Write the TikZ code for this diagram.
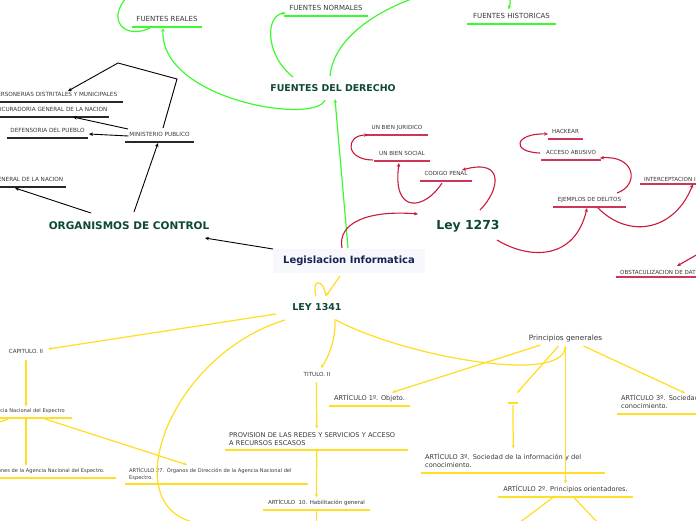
\documentclass[tikz,border=0pt]{standalone}
\usepackage{fontspec}
\setmainfont{DejaVu Sans}
\usetikzlibrary{arrows.meta,calc}
\definecolor{gline}{RGB}{60,250,45}
\definecolor{yline}{RGB}{255,222,40}
\definecolor{rline}{RGB}{200,25,60}
\definecolor{rbarc}{RGB}{205,55,85}
\definecolor{kbarc}{RGB}{40,40,40}
\definecolor{dgreen}{RGB}{12,72,52}
\definecolor{navy}{RGB}{22,36,84}
\definecolor{txt}{RGB}{55,55,55}
\definecolor{libg}{RGB}{246,248,251}
\newcommand\barunder[2]{\draw[#1] (#2.south west) -- (#2.south east);}
\begin{document}
\begin{tikzpicture}[x=1pt,y=-1pt,
  lab/.style={anchor=south,inner xsep=0pt,inner ysep=2pt,text depth=0.3em,text=txt,align=center},
  labl/.style={anchor=south,inner xsep=4pt,inner ysep=4pt,text=txt,align=left},
  fsvn/.style={font=\fontsize{7}{8.4}\selectfont},
  fblk/.style={font=\fontsize{5.7}{7}\selectfont},
  fred/.style={font=\fontsize{5.6}{7}\selectfont},
  fybig/.style={font=\fontsize{6.6}{8}\selectfont},
  fysm/.style={font=\fontsize{5.1}{7}\selectfont},
  ttl/.style={inner sep=0pt,text=dgreen},
  gbar/.style={gline,line width=2.5pt},
  ybar/.style={yline,line width=2.5pt},
  rbar/.style={rbarc,line width=2.5pt},
  kbar/.style={kbarc,line width=1.6pt},
  garr/.style={gline,line width=1.2pt,-{Stealth[length=4pt,width=3.5pt]}},
  gln/.style={gline,line width=1.2pt},
  rarr/.style={rline,line width=1.1pt,-{Stealth[length=4pt,width=3.5pt]}},
  karr/.style={black,line width=0.9pt,-{Stealth[length=4pt,width=3.5pt]}},
  yarr/.style={yline,line width=1.25pt,-{Stealth[length=3.5pt,width=3.2pt]}},
  yln/.style={yline,line width=1.25pt}
]
\useasboundingbox (0,0) rectangle (696,520);

% ---------- nodes ----------
\node[ttl,font=\bfseries\fontsize{9.4}{11}\selectfont] (fd) at (333,88) {FUENTES DEL DERECHO};
\node[lab,fsvn,minimum width=70pt] (fr) at (167,27) {FUENTES REALES};
\node[lab,fsvn,minimum width=84pt] (fn) at (326,16) {FUENTES NORMALES};
\node[lab,fsvn,minimum width=89pt] (fh) at (511.5,24) {FUENTES HISTORICAS};

\node[lab,fblk,minimum width=135pt] (pe) at (55.5,102) {PERSONERIAS DISTRITALES Y MUNICIPALES};
\node[lab,fblk,minimum width=121pt] (pr) at (48.5,117) {PROCURADORIA GENERAL DE LA NACION};
\node[lab,fblk,minimum width=81pt] (de) at (47.5,138) {DEFENSORIA DEL PUEBLO};
\node[lab,fblk,minimum width=69pt] (mp) at (159.5,142) {MINISTERIO PUBLICO};
\node[lab,fblk,minimum width=118pt] (co) at (7,187) {CONTRALORIA GENERAL DE LA NACION};
\node[ttl,font=\bfseries\fontsize{10.5}{12}\selectfont] (oc) at (129,226) {ORGANISMOS DE CONTROL};

\node[inner sep=0pt,fill=libg,minimum width=152pt,minimum height=24pt,text=navy,
      font=\bfseries\fontsize{10}{12}\selectfont] (li) at (349,261) {Legislacion Informatica};

\node[ttl,font=\bfseries\fontsize{12.4}{14}\selectfont] (ly) at (468,226) {Ley 1273};
\node[lab,fred,minimum width=62pt] (ubj) at (397,135) {UN BIEN JURIDICO};
\node[lab,fred,minimum width=56pt] (ubs) at (402,161) {UN BIEN SOCIAL};
\node[lab,fred,minimum width=52pt] (cp) at (446,181) {CODIGO PENAL};
\node[lab,fred,minimum width=35pt] (hk) at (565.5,139) {HACKEAR};
\node[lab,fred,minimum width=60pt] (aa) at (571,160) {ACCESO ABUSIVO};
\node[lab,fred,minimum width=73pt] (ed) at (589.5,207) {EJEMPLOS DE DELITOS};
\node[labl,fred,anchor=south west,inner ysep=2.5pt,text width=112pt] (ic) at (640,184) {INTERCEPTACION ILICITA};
\node[labl,fred,anchor=south west,inner ysep=2.5pt,text width=112pt] (ob) at (616,277) {OBSTACULIZACION DE DATOS};

\node[ttl,font=\bfseries\fontsize{9.5}{11}\selectfont] (l41) at (317,307) {LEY 1341};
\node[inner sep=0pt,text=txt,font=\fontsize{5.6}{7}\selectfont] (cap) at (26,351) {CAPITULO. II};
\node[lab,fysm,minimum width=92pt] (ane) at (26,418) {Agencia Nacional del Espectro};
\node[lab,fysm,minimum width=180pt] (fun) at (26,478) {ARTÍCULO 26. Funciones de la Agencia Nacional del Espectro.};
\node[labl,fysm,anchor=south west,inner ysep=3pt,text width=175pt] (a27) at (125,484) {ARTÍCULO 27. Órganos de Dirección de la Agencia Nacional del\\Espectro.};
\node[inner sep=0pt,text=txt,font=\fontsize{5.6}{7}\selectfont] (tit) at (317,374) {TITULO. II};
\node[lab,fybig,minimum width=81pt] (a1) at (369.5,406) {ARTÍCULO 1º. Objeto.};
\node[labl,fybig,anchor=south west,text width=175pt] (prov) at (225,450) {PROVISION DE LAS REDES Y SERVICIOS Y ACCESO\\A RECURSOS ESCASOS};
\node[lab,font=\fontsize{5.5}{7}\selectfont,minimum width=106pt] (a10) at (316.5,510) {ARTÍCULO~ 10. Habilitación general};
\node[inner sep=0pt,text=txt,font=\fontsize{7.3}{9}\selectfont] (pg) at (565.5,338) {Principios generales};
\node[lab,minimum width=10pt,minimum height=4pt] (emp) at (513,403) {};
\node[labl,fybig,anchor=south west,inner ysep=5pt,text width=176pt] (a3a) at (421,473) {ARTÍCULO 3º. Sociedad de la información y del\\conocimiento.};
\node[lab,fybig,minimum width=134pt] (a2) at (565.5,497) {ARTÍCULO 2º. Principios orientadores.};
\node[labl,fybig,anchor=south west,inner ysep=5pt,text width=176pt] (a3b) at (617,414) {ARTÍCULO 3º. Sociedad de la información y del\\conocimiento.};

% ---------- underlines ----------
\barunder{gbar}{fr}\barunder{gbar}{fn}\barunder{gbar}{fh}
\barunder{kbar}{pe}\barunder{kbar}{pr}\barunder{kbar}{de}\barunder{kbar}{mp}\barunder{kbar}{co}
\barunder{rbar}{ubj}\barunder{rbar}{ubs}\barunder{rbar}{cp}\barunder{rbar}{hk}\barunder{rbar}{aa}
\barunder{rbar}{ed}\barunder{rbar}{ic}\barunder{rbar}{ob}
\barunder{ybar}{ane}\barunder{ybar}{fun}\barunder{ybar}{a27}\barunder{ybar}{a1}\barunder{ybar}{prov}
\barunder{ybar}{a10}\barunder{ybar}{emp}\barunder{ybar}{a3a}\barunder{ybar}{a2}\barunder{ybar}{a3b}

% ---------- green connectors ----------
\coordinate (frtop) at (128,-4);
\draw[garr] ($(li)+(-1,-13)$) -- ($(fd)+(2,11)$);
\draw[garr] ($(fd)+(-8,12)$) .. controls (315,125) and (160,100) .. ($(fr.south)+(-4,1)$);
\draw[garr] ($(fd)+(-40,-11)$) .. controls (265,55) and (265,15) .. ($(fn.south west)+(2,-3)$);
\draw[garr] ($(fd)+(-3,-12)$) .. controls (338,-5) and (525,-40) .. ($(fh.north)+(-3,-2)$);
\draw[gln] ($(fr.south)+(-17,1)$) .. controls (125,40) and (105,20) .. (frtop);

% ---------- black connectors ----------
\draw[karr] ($(li)+(-76,-12)$) -- ($(oc)+(76,12)$);
\draw[karr] ($(oc)+(-38,-13)$) -- ($(co.south)+(8,1)$);
\draw[karr] ($(oc)+(5,-14)$) -- ($(mp.south)+(-1.5,1)$);
\draw[karr] ($(mp.south)+(-31,-6)$) -- ($(de.south)+(41.5,-4)$);
\draw[karr] ($(mp.south)+(-31.5,-13)$) -- ($(pr.south)+(24.5,0)$);
\draw[karr] ($(mp.south)+(3.5,-14)$) -- (177,79) -- (118,63) -- ($(pe.south)+(12.5,-11)$);

% ---------- red connectors ----------
\coordinate (obsrc) at (698,254);
\draw[rarr] ($(li)+(-7,-13)$) .. controls (337,222) and (370,210) .. ($(ly)+(-50,-12)$);
\draw[rarr] ($(ly)+(12,-16)$) .. controls (500,190) and (505,158) .. ($(cp.south)+(16,-11)$);
\draw[rarr] ($(cp.south)+(-4,2)$) .. controls (425,210) and (392,215) .. ($(ubs.south)+(-3,2)$);
\draw[rarr] ($(ubs.south)+(-29,-1)$) .. controls (345,160) and (345,135) .. ($(ubj.south)+(-29,0)$);
\draw[rarr] ($(ly)+(29,14)$) .. controls (530,260) and (575,260) .. ($(ed.south)+(-2.5,1)$);
\draw[rarr] ($(ed.south)+(27.5,-14)$) .. controls (640,185) and (635,155) .. ($(aa.south)+(29,-2)$);
\draw[rarr] ($(aa.south)+(-31,-7)$) .. controls (510,152) and (515,133) .. ($(hk.south)+(-17.5,-5)$);
\draw[rarr] ($(ed.south)+(8.5,1)$) .. controls (630,240) and (675,230) .. ($(ic.south west)+(53,0)$);
\draw[rarr] (obsrc) -- ($(ob.south west)+(61,-11)$);

% ---------- yellow connectors ----------
\coordinate (l41end) at (197,523);
\coordinate (aneleft) at (-3,423);
\coordinate (a10end) at (316.5,523);
\coordinate (a2l) at (519,523);
\coordinate (a2r) at (598,523);
\draw[yarr] ($(li)+(-9,15)$) -- ($(l41)+(9,-11)$);
\draw[yln] ($(l41)+(-1,-11)$) .. controls (311,280) and (323,277) .. ($(l41)+(9,-11)$);
\draw[yarr] ($(l41)+(-41,7)$) -- ($(cap)+(22,-2)$);
\draw[yarr] ($(l41)+(-32,13)$) .. controls (170,355) and (115,505) .. (l41end);
\draw[yarr] ($(l41)+(18,12)$) .. controls (336,340) and (328,358) .. ($(tit)+(4,-6)$);
\draw[yarr] ($(l41)+(19,13)$) .. controls (400,355) and (560,385) .. ($(pg)+(0,8)$);
\draw[yarr] ($(cap)+(0,9)$) -- (ane.north);
\draw[yarr] (ane.south) -- (fun.north);
\draw[yarr] ($(ane.south)+(19,1)$) -- ($(a27.north)+(-29.5,0)$);
\draw[yln] ($(ane.south)+(-18,1)$) -- (aneleft);
\draw[yarr] ($(tit)+(-0.5,8)$) -- (prov.north);
\draw[yarr] (prov.south) -- (a10.north);
\draw[yln] (a10.south) -- (a10end);
\draw[yarr] ($(pg)+(-25,7)$) -- ($(a1.north)+(22.5,0)$);
\draw[yarr] ($(pg)+(-7,8)$) -- ($(emp.south)+(4,-10)$);
\draw[yarr] ($(pg)+(0,8)$) -- (a2.north);
\draw[yarr] ($(pg)+(18,8)$) -- ($(a3b.south west)+(68,-21)$);
\draw[yarr] ($(emp.south)+(0,2)$) -- (a3a.north);
\draw[yln] ($(a2.south)+(-12,0)$) -- (a2l);
\draw[yln] ($(a2.south)+(8,0)$) -- (a2r);
\end{tikzpicture}
\end{document}
